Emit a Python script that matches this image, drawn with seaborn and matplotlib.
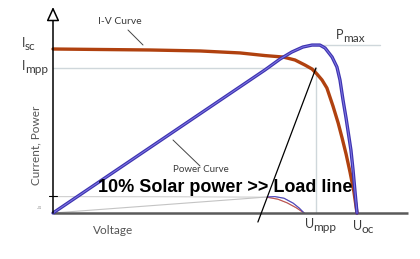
import matplotlib
matplotlib.use("Agg")
import matplotlib.pyplot as plt
import seaborn as sns

# ---- data (voltage in % of Uoc, current/power in % of Isc) ----
iv_voltage = [0, 15.5, 31.9, 48.4, 61.5, 69.7, 75.7, 79.6, 82.9, 85.2, 86.8, 88.5,
              90.1, 92.1, 93.8, 95.1, 96.4, 97.7, 99.0, 100]
iv_current = [100, 99.7, 99.4, 98.8, 97.6, 96.0, 95.1, 93.3, 90.2, 87.8, 84.8, 81.1,
              76.2, 65.2, 54.9, 45.7, 36.0, 25.0, 12.8, 0]

pw_voltage = [0, 69.7, 74.7, 78.6, 82.2, 85.2, 87.8, 89.5, 91.8, 93.4, 94.4, 95.4,
              96.4, 97.0, 98.0, 98.7, 99.3, 100]
pw_power = [0, 87.2, 93.9, 98.2, 101.2, 102.4, 102.4, 100.6, 95.1, 89.0, 81.1, 68.9,
            57.9, 50.6, 38.4, 26.2, 14.0, 0]

# 10 % irradiance curves
iv10_voltage = [0, 40, 65, 70.5, 74, 77, 80, 82.6]
iv10_current = [10.0, 9.9, 9.7, 9.6, 8.4, 6.2, 3.2, 0]
pw10_voltage = [0, 65, 70.5, 73, 76, 79, 81, 82.6]
pw10_power = [0, 9.0, 9.8, 10.0, 9.0, 6.0, 3.0, 0]

u_mpp, i_mpp, p_max = 86.5, 88.4, 102.4
load_line_v = [86.5, 67.4]
load_line_i = [88.4, -5.5]

# ---- figure ----
sns.set_theme(style="white")
plt.rcParams['font.family'] = ['Lato', 'DejaVu Sans']
fig = plt.figure(figsize=(4.2, 2.59), dpi=100)
ax = fig.add_axes([0, 0, 1, 1])
ax.set_axis_off()

X0, SX, Y0, SY = 53.0, 3.04, 213.0, 1.64   # pixel reference of the drawing scale
ax.set_xlim((0 - X0) / SX, (420 - X0) / SX)
ax.set_ylim((Y0 - 259) / SY, (Y0 - 0) / SY)


def P(x, y):
    return (x - X0) / SX, (Y0 - y) / SY


grid_c = '#cfd7db'
# reference lines
ax.plot([0, u_mpp], [i_mpp, i_mpp], color=grid_c, lw=1.0, zorder=1)
ax.plot([u_mpp, u_mpp], [0, i_mpp], color=grid_c, lw=1.0, zorder=1)
ax.plot([u_mpp, P(380, 0)[0]], [p_max, p_max], color=grid_c, lw=1.0, zorder=1)

# 10% curves
sns.lineplot(x=iv10_voltage, y=iv10_current, ax=ax, color='#d0d0d0', lw=0.8,
             sort=False, estimator=None, zorder=2)
sns.lineplot(x=pw10_voltage, y=pw10_power, ax=ax, color='#c4c4c4', lw=0.8,
             sort=False, estimator=None, zorder=2)
sns.lineplot(x=iv10_voltage[3:], y=iv10_current[3:], ax=ax, color='#c0504d', lw=0.8,
             sort=False, estimator=None, zorder=3)
sns.lineplot(x=pw10_voltage[2:], y=pw10_power[2:], ax=ax, color='#4c44c0', lw=0.8,
             sort=False, estimator=None, zorder=3)

# main curves
sns.lineplot(x=iv_voltage, y=iv_current, ax=ax, color='#b0410f', lw=2.4,
             sort=False, estimator=None, zorder=4)
sns.lineplot(x=pw_voltage, y=pw_power, ax=ax, color='#3d33b0', lw=2.4,
             sort=False, estimator=None, zorder=5)
sns.lineplot(x=pw_voltage, y=pw_power, ax=ax, color='#8078e4', lw=0.7,
             sort=False, estimator=None, zorder=6)

# load line
ax.plot(load_line_v, load_line_i, color='black', lw=0.9, zorder=7)

# axes
ax.plot([0, P(408, 0)[0]], [0, 0], color='#5a5a5a', lw=1.8, zorder=3, solid_capstyle='butt')
ax.annotate('', xy=P(53, 7), xytext=(0, 0),
            arrowprops=dict(arrowstyle='-|>,head_length=0.7,head_width=0.32',
                            fc='white', ec='black', lw=1.1, shrinkA=0, shrinkB=0),
            zorder=8)
ax.plot([P(49, 0)[0], P(57, 0)[0]], [P(0, 196)[1]] * 2, color='black', lw=0.8)

# leader lines
ax.plot(*zip(P(128, 30), P(143, 45)), color='#444444', lw=0.7)
ax.plot(*zip(P(173, 140), P(200, 166)), color='#444444', lw=0.7)

tc = '#3a3a3a'
ax.text(*P(120, 22), 'I-V Curve', fontsize=7.5, color=tc, ha='center', va='center')
ax.text(*P(201, 170), 'Power Curve', fontsize=7, color=tc, ha='center', va='center')

renderer = fig.canvas.get_renderer()


def sub_label(x, y, main, sub, drop=3):
    t = ax.text(*P(x, y), main, fontsize=9, color=tc, ha='left', va='baseline')
    bb = t.get_window_extent(renderer=renderer)
    xr = bb.x1 - 0.5
    ax.text(*P(xr, y + drop), sub, fontsize=8.5, color=tc, ha='left', va='baseline')


sub_label(22, 47, 'I', 'sc')
sub_label(22, 70, 'I', 'mpp')
sub_label(336, 39, 'P', 'max')
sub_label(305, 228, 'U', 'mpp')
sub_label(353, 230, 'U', 'oc')

ax.text(*P(113, 231), 'Voltage', fontsize=8.5, color='#555555', ha='center', va='center')
ax.text(*P(36, 145), 'Current, Power', fontsize=8.5, color='#555555', ha='center',
        va='center', rotation=90)
ax.text(*P(40, 206), 'Ia', fontsize=4, color='#aaaaaa', ha='center', va='center', rotation=90)

ax.text(*P(225, 187), '10% Solar power >> Load line', fontsize=13, fontweight='bold',
        family=['Liberation Sans', 'DejaVu Sans'], color='black', ha='center',
        va='center', zorder=9)

fig.savefig('out.png', dpi=100)
